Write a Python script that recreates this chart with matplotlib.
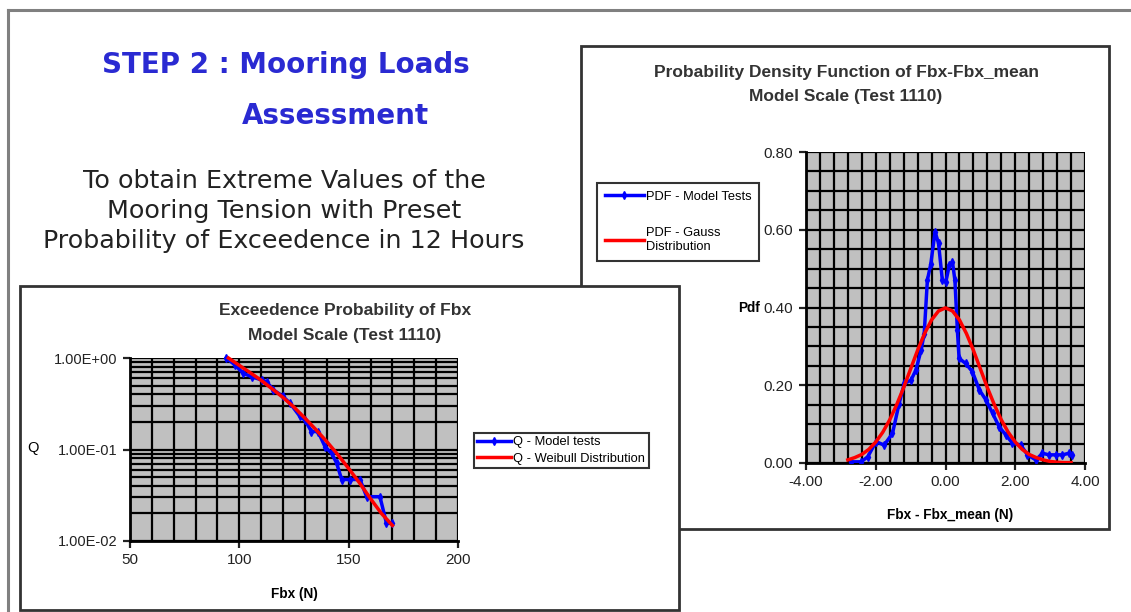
import matplotlib.pyplot as plt
import matplotlib.ticker as mticker
from matplotlib.patches import Rectangle
from matplotlib.lines import Line2D

W, H = 1131, 612

# exceedence probability (left chart)
fbx_model = [94, 98, 101.8, 105.6, 110.2, 112.5, 115.5, 120, 123.2, 127.7, 130, 133, 136,
             139.2, 142.2, 144.5, 146.8, 150.6, 155.2, 158.2, 164.3, 167.3, 169.6]
q_model = [1.0, 0.84, 0.68, 0.625, 0.575, 0.55, 0.45, 0.38, 0.32, 0.23, 0.21, 0.157, 0.157,
           0.107, 0.091, 0.071, 0.047, 0.047, 0.047, 0.0305, 0.0305, 0.0156, 0.0156]
fbx_weibull = [95, 100, 105, 110, 115, 120, 125, 130, 135, 140, 145, 150, 155, 160, 165, 170]
q_weibull = [1.0, 0.83, 0.69, 0.57, 0.46, 0.37, 0.29, 0.22, 0.165, 0.122, 0.088, 0.062,
             0.043, 0.029, 0.020, 0.0148]

# probability density (right chart)
dx_model = [-2.71, -2.42, -2.23, -1.99, -1.76, -1.52, -1.33, -1.18, -0.99, -0.85, -0.70, -0.61,
            -0.52, -0.42, -0.30, -0.20, -0.09, 0.01, 0.11, 0.20, 0.27, 0.34, 0.39, 0.58, 0.77,
            0.97, 1.16, 1.35, 1.54, 1.73, 1.92, 2.16, 2.35, 2.59, 2.78, 2.97, 3.16, 3.35, 3.54, 3.64]
pdf_model = [0.003, 0.003, 0.016, 0.055, 0.046, 0.076, 0.153, 0.205, 0.213, 0.239, 0.29, 0.333,
             0.47, 0.513, 0.595, 0.565, 0.47, 0.466, 0.509, 0.517, 0.47, 0.342, 0.269, 0.256, 0.235,
             0.188, 0.162, 0.128, 0.093, 0.072, 0.051, 0.046, 0.021, 0.008, 0.025, 0.021, 0.021,
             0.021, 0.025, 0.021]
dx_gauss = [-2.8, -2.6, -2.4, -2.2, -2.0, -1.8, -1.6, -1.4, -1.2, -1.0, -0.8, -0.6, -0.4, -0.2,
            0.0, 0.2, 0.4, 0.6, 0.8, 1.0, 1.2, 1.4, 1.6, 1.8, 2.0, 2.2, 2.4, 2.6, 2.8, 3.0, 3.2,
            3.4, 3.6]
pdf_gauss = [0.008, 0.014, 0.022, 0.035, 0.054, 0.079, 0.111, 0.150, 0.194, 0.242, 0.290, 0.333,
             0.368, 0.391, 0.399, 0.391, 0.368, 0.333, 0.290, 0.242, 0.194, 0.150, 0.111, 0.079,
             0.054, 0.035, 0.022, 0.014, 0.008, 0.004, 0.002, 0.001, 0.001]


def fx(x):
    return x / W


def fy(y):
    return 1 - y / H


def box(x0, y0, x1, y1):
    return [x0 / W, 1 - y1 / H, (x1 - x0) / W, (y1 - y0) / H]


plt.rcParams['font.family'] = ['Liberation Sans', 'DejaVu Sans']

fig = plt.figure(figsize=(W / 100, H / 100), dpi=100)

# slide frame
fig.add_artist(Line2D([fx(8), 1], [fy(10), fy(10)], color='#808080', lw=2.2))
fig.add_artist(Line2D([fx(8), fx(8)], [fy(10), 0], color='#808080', lw=2.2))

# slide heading
fig.text(fx(286), fy(65), 'STEP 2 : Mooring Loads', color='#2a2ad2', fontsize=20,
         fontweight='bold', family='DejaVu Sans', ha='center', va='center')
fig.text(fx(335), fy(116), 'Assessment', color='#2a2ad2', fontsize=20,
         fontweight='bold', family='DejaVu Sans', ha='center', va='center')
for i, line in enumerate(['To obtain Extreme Values of the', 'Mooring Tension with Preset',
                          'Probability of Exceedence in 12 Hours']):
    fig.text(fx(284), fy(181 + 30 * i), line, color='#222222', fontsize=18.3,
             family='DejaVu Sans', ha='center', va='center')

# panel boxes, left one on top of the right one
fig.add_artist(Rectangle((fx(581), fy(529)), (1109 - 581) / W, (529 - 46) / H,
                         transform=fig.transFigure, facecolor='white', edgecolor='#333333',
                         lw=2, zorder=1))
fig.add_artist(Rectangle((fx(20), fy(610)), (679 - 20) / W, (610 - 286) / H,
                         transform=fig.transFigure, facecolor='white', edgecolor='#333333',
                         lw=2, zorder=2))


def style_axes(ax):
    ax.set_facecolor('#c0c0c0')
    for s in ['top', 'right']:
        ax.spines[s].set_visible(False)
    for s in ['left', 'bottom']:
        ax.spines[s].set_linewidth(2)
        ax.spines[s].set_color('black')
    ax.tick_params(which='major', length=5, width=1.6, labelsize=11, colors='#222222', pad=4)
    ax.tick_params(which='minor', length=0)


# ---- left chart: exceedence probability
ax1 = fig.add_axes(box(130, 358, 458, 541), zorder=3)
style_axes(ax1)
ax1.set_yscale('log')
ax1.set_xlim(50, 200)
ax1.set_ylim(0.01, 1.0)
ax1.xaxis.set_major_locator(mticker.MultipleLocator(50))
ax1.xaxis.set_minor_locator(mticker.MultipleLocator(10))
ax1.yaxis.set_major_locator(mticker.FixedLocator([0.01, 0.1, 1.0]))
ax1.yaxis.set_minor_locator(mticker.LogLocator(base=10, subs=range(2, 10)))
ax1.yaxis.set_major_formatter(mticker.FuncFormatter(lambda v, p: f'{v:.2E}'))
ax1.yaxis.set_minor_formatter(mticker.NullFormatter())
ax1.tick_params(axis='y', labelsize=10.5)
ax1.grid(True, which='both', color='black', lw=1.6)
ax1.set_axisbelow(True)
ax1.plot(fbx_model, q_model, color='#0000ff', lw=2.5, marker='d', ms=4, label='Q - Model tests',
         zorder=3, clip_on=False)
ax1.plot(fbx_weibull, q_weibull, color='#ff0000', lw=2.5, label='Q - Weibull Distribution',
         zorder=4, clip_on=False)
ax1.legend(loc='upper left', bbox_to_anchor=(fx(474), fy(433)), bbox_transform=fig.transFigure,
           prop={'size': 9.3}, frameon=True, fancybox=False, edgecolor='black', borderpad=0.25,
           handlelength=2.6, handletextpad=0.2, labelspacing=0.35, borderaxespad=0)
ax1.get_legend().get_frame().set_linewidth(1.5)
fig.text(fx(345), fy(311), 'Exceedence Probability of Fbx', fontsize=12.5, fontweight='bold',
         ha='center', va='center', color='#333333', zorder=4)
fig.text(fx(345), fy(335), 'Model Scale (Test 1110)', fontsize=12.5, fontweight='bold',
         ha='center', va='center', color='#333333', zorder=4)
fig.text(fx(33), fy(448), 'Q', fontsize=10.5, ha='center', va='center', zorder=4)
fig.text(fx(294), fy(594), 'Fbx (N)', fontsize=9.8, fontweight='bold', ha='center', va='center',
         zorder=4)

# ---- right chart: probability density
ax2 = fig.add_axes(box(806, 152, 1085, 463), zorder=1.5)
style_axes(ax2)
ax2.set_xlim(-4, 4)
ax2.set_ylim(0, 0.8)
ax2.xaxis.set_major_locator(mticker.MultipleLocator(2))
ax2.xaxis.set_minor_locator(mticker.MultipleLocator(0.4))
ax2.yaxis.set_major_locator(mticker.MultipleLocator(0.2))
ax2.yaxis.set_minor_locator(mticker.MultipleLocator(0.05))
ax2.xaxis.set_major_formatter(mticker.FormatStrFormatter('%.2f'))
ax2.yaxis.set_major_formatter(mticker.FormatStrFormatter('%.2f'))
ax2.grid(True, which='both', color='black', lw=1.6)
ax2.set_axisbelow(True)
ax2.plot(dx_model, pdf_model, color='#0000ff', lw=2.5, marker='d', ms=4,
         label='PDF - Model Tests', zorder=3)
ax2.plot(dx_gauss, pdf_gauss, color='#ff0000', lw=2.5, label='PDF - Gauss\nDistribution',
         zorder=4)
ax2.legend(loc='upper left', bbox_to_anchor=(fx(597), fy(183)), bbox_transform=fig.transFigure,
           prop={'size': 9.3}, frameon=True, fancybox=False, edgecolor='black', borderpad=0.6,
           handlelength=3.0, handletextpad=0.2, labelspacing=1.9, borderaxespad=0)
ax2.get_legend().get_frame().set_linewidth(1.5)
fig.text(fx(846), fy(73), 'Probability Density Function of Fbx-Fbx_mean', fontsize=12.5,
         fontweight='bold', ha='center', va='center', color='#333333')
fig.text(fx(846), fy(97), 'Model Scale (Test 1110)', fontsize=12.5, fontweight='bold',
         ha='center', va='center', color='#333333')
fig.text(fx(749), fy(308), 'Pdf', fontsize=9.8, fontweight='bold', ha='center', va='center')
fig.text(fx(950), fy(515), 'Fbx - Fbx_mean (N)', fontsize=9.8, fontweight='bold',
         ha='center', va='center')

fig.savefig('out.png', dpi=100)
